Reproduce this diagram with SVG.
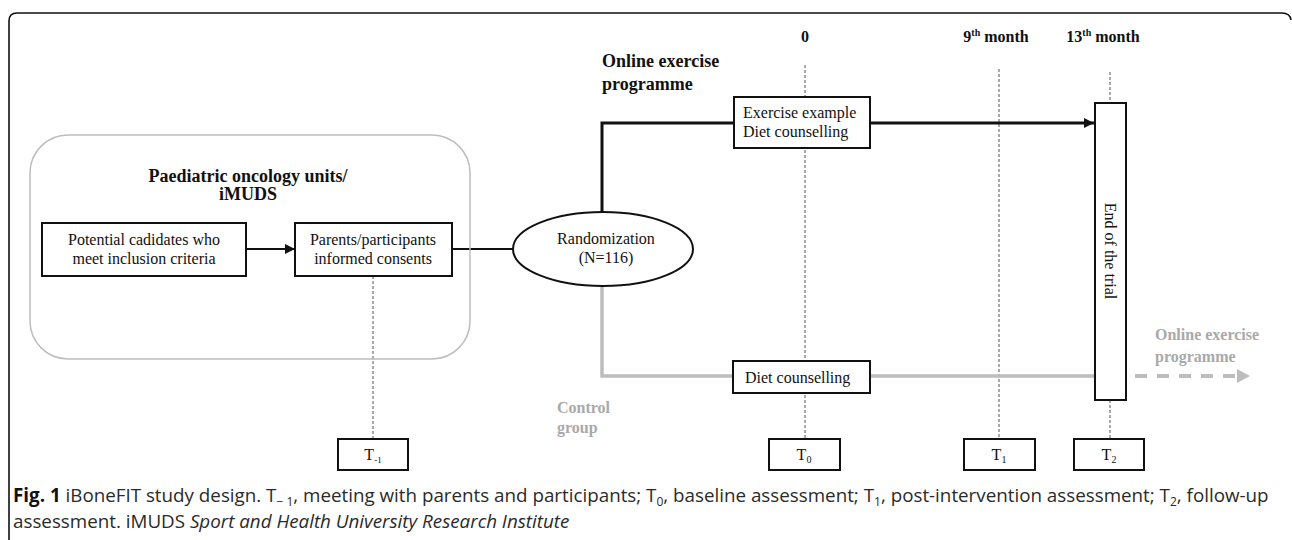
<svg xmlns="http://www.w3.org/2000/svg" width="1292" height="540" viewBox="0 0 1292 540">
<style>
.t{font-family:"Liberation Serif","Times New Roman",serif;font-size:16px;fill:#111}
.b{font-family:"Liberation Serif","Times New Roman",serif;font-size:18px;font-weight:bold;fill:#111}
.h{font-family:"Liberation Serif","Times New Roman",serif;font-size:16px;font-weight:bold;fill:#111}
.g{font-family:"Liberation Serif","Times New Roman",serif;font-size:16px;font-weight:bold;fill:#a9a9a9}
.box{fill:#fff;stroke:#111;stroke-width:2}
.dot{stroke:#555;stroke-width:1;stroke-dasharray:3 2;fill:none}
.cap{font-family:"Open Sans","Noto Sans",sans-serif;font-size:18.8px;fill:#2a2a2a}
</style>
<defs>
<marker id="ab" markerUnits="userSpaceOnUse" markerWidth="12" markerHeight="12" refX="10" refY="6" orient="auto"><path d="M0,1 L10,6 L0,11 Z" fill="#111"/></marker>
</defs>
<rect width="1292" height="540" fill="#fff"/>
<path d="M9,540 V21 Q9,13 17,13 H1282 Q1290,13 1291,20" fill="none" stroke="#111" stroke-width="1.6"/>
<g id="connectors">
<line class="dot" x1="373" y1="276" x2="373" y2="439"/>
<line class="dot" x1="805" y1="65" x2="805" y2="439"/>
<line class="dot" x1="999" y1="69" x2="999" y2="439"/>
<line class="dot" x1="1110" y1="72" x2="1110" y2="103"/>
<line class="dot" x1="1110" y1="400" x2="1110" y2="439"/>
<line x1="246" y1="249" x2="295" y2="249" stroke="#111" stroke-width="2" marker-end="url(#ab)"/>
<line x1="452" y1="249" x2="513" y2="249" stroke="#111" stroke-width="2"/>
<path d="M602,212 V123 H734" fill="none" stroke="#111" stroke-width="3"/>
<line x1="870" y1="123" x2="1094" y2="123" stroke="#111" stroke-width="3" marker-end="url(#ab)"/>
<path d="M602,286 V376 H733" fill="none" stroke="#bdbdbd" stroke-width="3.5"/>
<line x1="870" y1="376" x2="1095" y2="376" stroke="#bdbdbd" stroke-width="3.5"/>
<line x1="1135" y1="376" x2="1237" y2="376" stroke="#bdbdbd" stroke-width="4" stroke-dasharray="12 10"/>
<path d="M1237,369 L1250,376 L1237,383 Z" fill="#bdbdbd"/>
</g>
<g id="units">
<rect x="30" y="135" width="440" height="224" rx="38" ry="38" fill="none" stroke="#bdbdbd" stroke-width="1.5"/>
<text class="b" x="248" y="182" text-anchor="middle">Paediatric oncology units/</text>
<text class="b" x="248" y="200" text-anchor="middle">iMUDS</text>
</g>
<g id="candidates">
<rect class="box" x="42" y="223" width="204" height="53"/>
<text class="t" x="144" y="245" text-anchor="middle">Potential cadidates who</text>
<text class="t" x="144" y="264" text-anchor="middle">meet inclusion criteria</text>
</g>
<g id="consents">
<rect class="box" x="295" y="223" width="157" height="53"/>
<text class="t" x="373" y="245" text-anchor="middle">Parents/participants</text>
<text class="t" x="373" y="264" text-anchor="middle">informed consents</text>
</g>
<g id="randomization">
<ellipse cx="603" cy="249" rx="90" ry="37" fill="#fff" stroke="#111" stroke-width="2"/>
<text class="t" x="606" y="244" text-anchor="middle">Randomization</text>
<text class="t" x="606" y="263" text-anchor="middle">(N=116)</text>
</g>
<g id="headers">
<text class="h" x="805" y="42" text-anchor="middle">0</text>
<text class="h" x="996" y="42" text-anchor="middle">9<tspan font-size="10" dy="-6">th</tspan><tspan dy="6"> month</tspan></text>
<text class="h" x="1103" y="42" text-anchor="middle">13<tspan font-size="10" dy="-6">th</tspan><tspan dy="6"> month</tspan></text>
</g>
<g id="online-label">
<text class="b" x="602" y="67">Online exercise</text>
<text class="b" x="602" y="90">programme</text>
</g>
<g id="exercise">
<rect class="box" x="734" y="97" width="136" height="51"/>
<text class="t" x="743" y="118">Exercise example</text>
<text class="t" x="743" y="137">Diet counselling</text>
</g>
<g id="diet">
<rect class="box" x="733" y="361" width="137" height="32"/>
<text class="t" x="745" y="383">Diet counselling</text>
</g>
<g id="end-trial">
<rect class="box" x="1095" y="103" width="31" height="297"/>
<text class="t" transform="translate(1105,251) rotate(90)" text-anchor="middle">End of the trial</text>
</g>
<g id="control-label">
<text class="g" x="557" y="413">Control</text>
<text class="g" x="557" y="433">group</text>
</g>
<g id="online-grey-label">
<text class="g" x="1155" y="340">Online exercise</text>
<text class="g" x="1155" y="362">programme</text>
</g>
<g id="tm1"><rect class="box" x="338" y="439" width="70" height="31"/><text class="t" x="373" y="460" text-anchor="middle">T<tspan font-size="9" dy="3">-1</tspan></text></g>
<g id="t0"><rect class="box" x="769" y="439" width="71" height="31"/><text class="t" x="804" y="460" text-anchor="middle">T<tspan font-size="10" dy="3">0</tspan></text></g>
<g id="t1"><rect class="box" x="964" y="439" width="71" height="31"/><text class="t" x="999" y="460" text-anchor="middle">T<tspan font-size="10" dy="3">1</tspan></text></g>
<g id="t2"><rect class="box" x="1074" y="439" width="70" height="31"/><text class="t" x="1109" y="460" text-anchor="middle">T<tspan font-size="10" dy="3">2</tspan></text></g>
<g id="caption">
<text class="cap" x="13" y="502"><tspan font-weight="bold" fill="#111">Fig. 1</tspan> iBoneFIT study design. T<tspan font-size="12" dy="4">− 1</tspan><tspan dy="-4">, meeting with parents and participants; T</tspan><tspan font-size="12" dy="4">0</tspan><tspan dy="-4">, baseline assessment; T</tspan><tspan font-size="12" dy="4">1</tspan><tspan dy="-4">, post-intervention assessment; T</tspan><tspan font-size="12" dy="4">2</tspan><tspan dy="-4">, follow-up</tspan></text>
<text class="cap" x="13" y="528">assessment. iMUDS <tspan font-style="italic">Sport and Health University Research Institute</tspan></text>
</g>
</svg>
